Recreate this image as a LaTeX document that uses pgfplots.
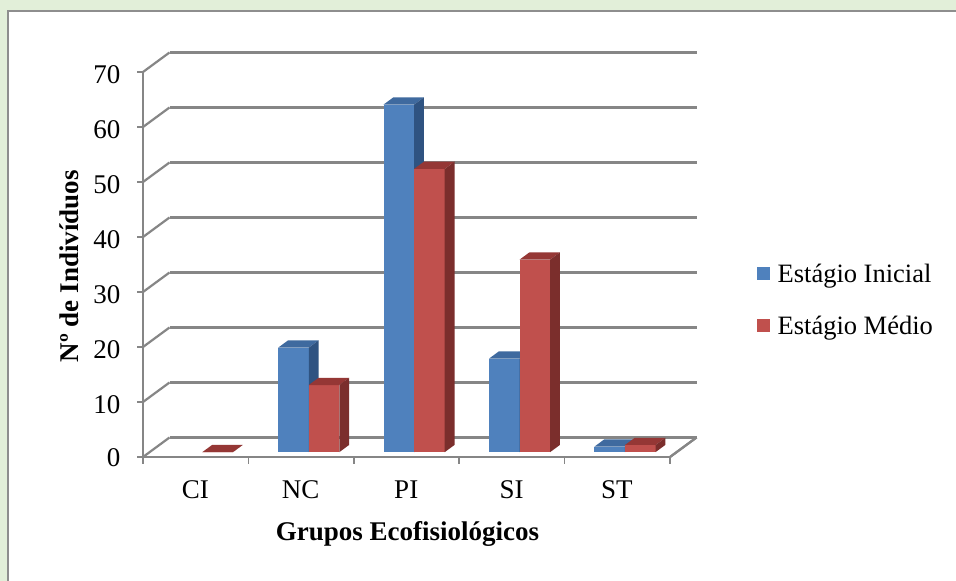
\documentclass[border=0pt]{standalone}
\usepackage{pgfplots}
\pgfplotsset{compat=1.18}
\usepackage{fontspec}
\setmainfont{Liberation Serif}
\definecolor{bgg}{HTML}{E2EFD9}
\definecolor{frm}{HTML}{8E8E8E}
\definecolor{grd}{HTML}{868686}
\definecolor{bf}{HTML}{4F81BD}
\definecolor{bt}{HTML}{3F6A9F}
\definecolor{bs}{HTML}{2F5381}
\definecolor{rf}{HTML}{C0504D}
\definecolor{rt}{HTML}{953735}
\definecolor{rs}{HTML}{7B2E2C}
% x0, x1, value, front, top, side
\newcommand{\barpoly}[6]{%
\addplot3[fill=#4,draw=none,forget plot] coordinates {(#1,0.25,0) (#2,0.25,0) (#2,0.25,#3) (#1,0.25,#3)};
\addplot3[fill=#5,draw=none,forget plot] coordinates {(#1,0.25,#3) (#2,0.25,#3) (#2,0.62,#3) (#1,0.62,#3)};
\addplot3[fill=#6,draw=none,forget plot] coordinates {(#2,0.25,0) (#2,0.62,0) (#2,0.62,#3) (#2,0.25,#3)};
}
\newcommand{\xtk}[1]{\addplot3[grd,line width=1.5pt,forget plot] coordinates {(#1,0,0) (#1,0,-1.2)};}
\newcommand{\ztk}[1]{\addplot3[grd,line width=1.5pt,forget plot] coordinates {(0,0,#1) (-0.055,0,#1)};}
\begin{document}
\begin{tikzpicture}[x=1pt,y=1pt]
\path[use as bounding box] (0,0) rectangle (956,581);
\fill[bgg] (0,0) rectangle (956,581);
\fill[white,draw=frm,line width=2.5pt] (8,-5) rectangle (961,570);
\begin{axis}[
  at={(143pt,124pt)},anchor=origin,
  x={(105.4pt,0pt)},y={(26.5pt,19.5pt)},z={(0pt,5.5pt)},
  xmin=0,xmax=5,ymin=0,ymax=1,zmin=0,zmax=70,
  axis lines=left,
  axis line style={grd,line width=2.2pt,-},
  xtick={0.5,1.5,2.5,3.5,4.5},
  xticklabels={CI,NC,PI,SI,ST},
  ytick=\empty,
  ztick={0,10,...,70},
  major tick length=0pt,
  zmajorgrids=true,
  major grid style={grd,line width=2.2pt},
  tick label style={font=\fontsize{27}{29}\selectfont},
  xticklabel style={yshift=-20pt,xshift=6pt},
  zticklabel style={xshift=-19pt,yshift=3pt},
  /pgf/number format/assume math mode=true,
  xlabel={\textbf{Grupos Ecofisiológicos}},
  zlabel={\textbf{Nº de Indivíduos}},
  every axis x label/.style={at={(axis cs:2.51,0,-14)},anchor=center,font=\fontsize{27}{29}\selectfont},
  every axis z label/.style={at={(axis cs:-0.7,0,34.7)},anchor=center,rotate=90,font=\fontsize{27}{29}\selectfont},
  legend style={at={(axis cs:5.82,0,35.5)},anchor=north west,draw=none,fill=none,font=\fontsize{26.5}{29}\selectfont,row sep=28pt,inner sep=0pt},
  legend image code/.code={\path[draw=none,fill=none] (0pt,0pt) -- (19pt,0pt);\fill[#1,draw=none] (0pt,-6.5pt) rectangle (13pt,6.5pt);},
  legend cell align=left,
  clip=false,
]
\addlegendimage{bf}
\addlegendentry{Estágio Inicial}
\addlegendimage{rf}
\addlegendentry{Estágio Médio}
\addplot3[grd,line width=2.2pt,forget plot] coordinates {(5,0,0) (5,1,0)};
\xtk{0}\xtk{1}\xtk{2}\xtk{3}\xtk{4}\xtk{5}
\ztk{0}\ztk{10}\ztk{20}\ztk{30}\ztk{40}\ztk{50}\ztk{60}\ztk{70}
\barpoly{0.50}{0.79}{0}{rf}{rt}{rs}
\barpoly{1.22}{1.51}{19}{bf}{bt}{bs}
\barpoly{1.51}{1.80}{12.2}{rf}{rt}{rs}
\barpoly{2.22}{2.51}{63.2}{bf}{bt}{bs}
\barpoly{2.51}{2.80}{51.5}{rf}{rt}{rs}
\barpoly{3.22}{3.51}{17}{bf}{bt}{bs}
\barpoly{3.51}{3.80}{35}{rf}{rt}{rs}
\barpoly{4.22}{4.51}{1}{bf}{bt}{bs}
\barpoly{4.51}{4.80}{1.3}{rf}{rt}{rs}
\end{axis}
\end{tikzpicture}
\end{document}
